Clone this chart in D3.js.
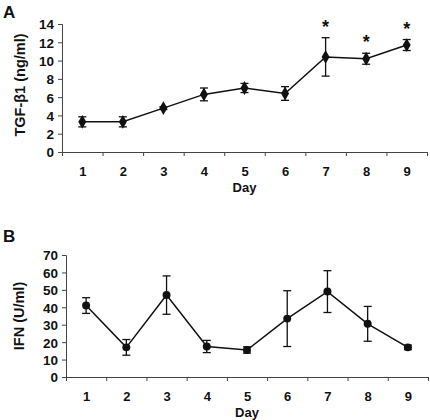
<!DOCTYPE html>
<html><head><meta charset="utf-8">
<script src="https://cdn.jsdelivr.net/npm/d3@7"></script>
<style>body{margin:0;background:#fff}svg{display:block}text{font-family:"Liberation Sans",Arial,sans-serif;font-weight:bold;fill:#111}</style>
</head><body>
<script>
const days = [1,2,3,4,5,6,7,8,9];
const tgfMean = [3.3,3.3,4.8,6.3,7.0,6.4,10.4,10.2,11.7];
const tgfErr  = [0.55,0.55,0.15,0.7,0.5,0.75,2.1,0.6,0.6];
const tgfSig  = [false,false,false,false,false,false,true,true,true];
const tgfTicks = [0,2,4,6,8,10,12,14];
const ifnMean = [41,17,47,17.5,15.5,33.5,49,30.5,17];
const ifnErr  = [4.5,4.5,11,3.5,1.8,16,12,10,1.3];
const ifnTicks = [0,10,20,30,40,50,60,70];

const W=430,H=420;
const svg=d3.select("body").append("svg").attr("width",W).attr("height",H);

function panel(cfg){
  const g=svg.append("g");
  const x=d3.scaleLinear().domain([0.5,9.5]).range([cfg.x0,cfg.x1]);
  const y=d3.scaleLinear().domain([0,cfg.ymax]).range([cfg.y0,cfg.y1]);
  const ya=g.append("g").attr("transform",`translate(${cfg.x0},0)`)
    .call(d3.axisLeft(y).tickValues(cfg.ticks).tickSize(4).tickPadding(4));
  ya.selectAll("text").style("font-size","13.5px").attr("dy","0.36em");
  ya.select(".domain").attr("stroke","#444");
  ya.selectAll(".tick line").attr("stroke","#444");
  const xa=g.append("g").attr("transform",`translate(0,${cfg.y0})`)
    .call(d3.axisBottom(x).tickValues(d3.range(0.5,10,1)).tickSize(4).tickFormat(""));
  xa.select(".domain").attr("stroke","#444");
  xa.selectAll(".tick line").attr("stroke","#444");
  const xl=g.append("g").attr("transform",`translate(0,${cfg.y0})`)
    .call(d3.axisBottom(x).tickValues(days).tickSize(0).tickPadding(15).tickFormat(d3.format("d")));
  xl.select(".domain").remove();
  xl.selectAll("text").style("font-size","13px");
  g.append("text").attr("x",x(5)).attr("y",cfg.y0+39.5).attr("text-anchor","middle").style("font-size","13px").text("Day");
  g.append("text").attr("transform",`translate(${cfg.ylx},${cfg.lyc}) rotate(-90)`)
    .attr("text-anchor","middle").style("font-size","14.5px").text(cfg.ylabel);
  g.append("text").attr("x",3).attr("y",cfg.lety).style("font-size","17px").text(cfg.letter);
  g.append("path").datum(days).attr("fill","none").attr("stroke","#111").attr("stroke-width",1.5)
    .attr("d",d3.line().x(d=>x(d)).y((d,i)=>y(cfg.mean[i])));
  const eb=g.append("g").attr("stroke","#111").attr("stroke-width",1.3);
  days.forEach((d,i)=>{
    const m=cfg.mean[i],e=cfg.err[i],cx=x(d);
    eb.append("line").attr("x1",cx).attr("x2",cx).attr("y1",y(m+e)).attr("y2",y(m-e));
    [m+e,m-e].forEach(v=>eb.append("line").attr("x1",cx-4).attr("x2",cx+4).attr("y1",y(v)).attr("y2",y(v)));
  });
  const sym=d3.symbol().type(cfg.symbol).size(cfg.symSize);
  g.selectAll(".m").data(days).enter().append("path")
    .attr("transform",(d,i)=>`translate(${x(d)},${y(cfg.mean[i])})`).attr("d",sym).attr("fill","#111");
  if(cfg.sig){
    days.forEach((d,i)=>{ if(cfg.sig[i]) g.append("text").attr("x",x(d)).attr("y",y(cfg.mean[i]+cfg.err[i])-5)
      .attr("text-anchor","middle").style("font-size","18px").text("*"); });
  }
}

panel({x0:62,x1:427,y0:152,y1:24,ymax:14,ticks:tgfTicks,mean:tgfMean,err:tgfErr,sig:tgfSig,
  ylabel:"TGF-β1 (ng/ml)",ylx:24.5,lyc:85,letter:"A",lety:18,symbol:d3.symbolDiamond,symSize:55});
panel({x0:66,x1:428,y0:377,y1:255,ymax:70,ticks:ifnTicks,mean:ifnMean,err:ifnErr,sig:null,
  ylabel:"IFN (U/ml)",ylx:23.5,lyc:316,letter:"B",lety:242,symbol:d3.symbolCircle,symSize:50});
</script>
</body></html>
